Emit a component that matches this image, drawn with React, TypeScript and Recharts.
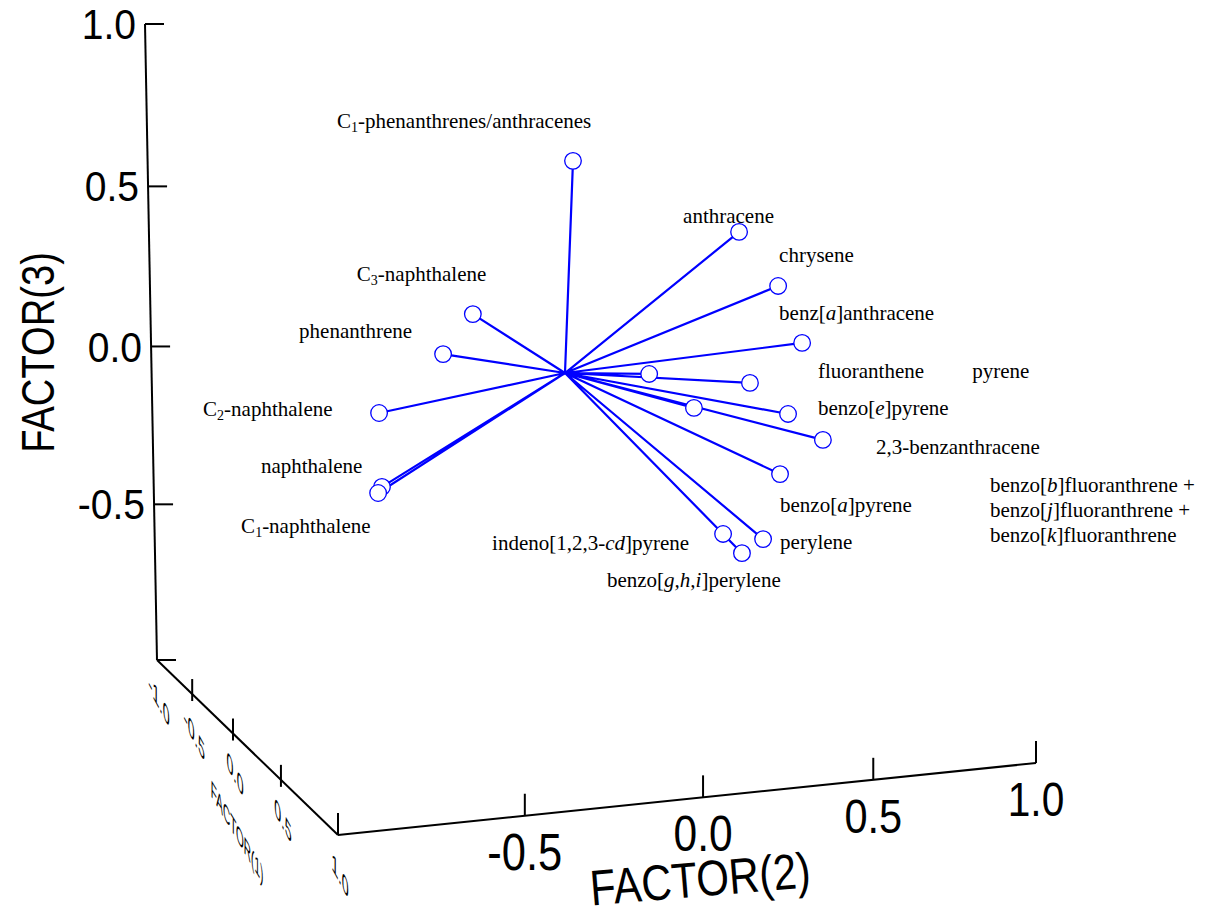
import { ReferenceLine, Scatter, ScatterChart, XAxis, YAxis } from "recharts";

const W = 1206;
const H = 919;

// view plane: 1 unit = 320px, hub of the loading spokes sits at (0, 0)
const PX_PER_UNIT = 320;
const HUB_PX = [565, 373];
const X_DOMAIN: [number, number] = [-HUB_PX[0] / PX_PER_UNIT, (W - HUB_PX[0]) / PX_PER_UNIT];
const Y_DOMAIN: [number, number] = [-(H - HUB_PX[1]) / PX_PER_UNIT, HUB_PX[1] / PX_PER_UNIT];
const px = (n: number) => n / PX_PER_UNIT;

const BLUE = "#0000ff";
const SANS = "'Liberation Sans', Arial, sans-serif";
const SERIF = "'Liberation Serif', 'Times New Roman', serif";

// compound names (_x_ = subscript, *x* = italic, \n = new line)
const compounds = [
  "C_1_-phenanthrenes/anthracenes",
  "anthracene",
  "chrysene",
  "benz[*a*]anthracene",
  "fluoranthene",
  "pyrene",
  "benzo[*e*]pyrene",
  "2,3-benzanthracene",
  "benzo[*a*]pyrene",
  "benzo[*b*]fluoranthrene +\nbenzo[*j*]fluoranthrene +\nbenzo[*k*]fluoranthrene",
  "perylene",
  "indeno[1,2,3-*cd*]pyrene",
  "benzo[*g,h,i*]perylene",
  "C_3_-naphthalene",
  "phenanthrene",
  "C_2_-naphthalene",
  "naphthalene",
  "C_1_-naphthalene",
];

// loadings projected onto the view plane
const planeX = [
  0.025, 0.544, 0.666, 0.741, 0.578, 0.263, 0.697, 0.806, 0.672, 0.403, 0.619, 0.494, 0.553,
  -0.288, -0.381, -0.581, -0.572, -0.584,
];
const planeY = [
  0.663, 0.441, 0.272, 0.094, -0.031, -0.003, -0.128, -0.209, -0.316, -0.109, -0.519, -0.503, -0.563,
  0.184, 0.059, -0.125, -0.356, -0.375,
];

// label anchor (left, baseline) relative to its marker, in px
const LABEL_OFFSET: [number, number][] = [
  [-236, -33], [-56, -9], [1, -24], [-23, -23], [68, -5], [323, 4], [30, 1], [53, 14], [0, 38],
  [296, 84], [17, 10], [-231, 16], [-135, 34], [-116, -33], [-144, -16], [-176, 3], [-121, -14],
  [-137, 40],
];

// axis ticks
const F1_TICKS = [-1, -0.5, 0, 0.5, 1];
const F2_TICKS = [-0.5, 0, 0.5, 1];
const F3_TICKS = [-0.5, 0, 0.5, 1];

// box corners on the view plane
const CORNER: Record<string, [number, number]> = {
  top: [-1.3125, 1.0906],
  back: [-1.275, -0.8969],
  front: [-0.7094, -1.4438],
  right: [1.4719, -1.2188],
};

type Axis = { from: [number, number]; to: [number, number]; depth: [number, number] };
const AX1: Axis = { from: CORNER.back, to: CORNER.front, depth: [1.16, 0.84] };
const AX2: Axis = { from: CORNER.front, to: CORNER.right, depth: [0.954, 1.046] };
const AX3: Axis = { from: CORNER.back, to: CORNER.top, depth: [1.014, 0.986] };

// perspective-correct position of value f (-1..1) along an axis
function at(ax: Axis, f: number): [number, number] {
  const wa = ((1 - f) / 2) * ax.depth[0];
  const wb = ((1 + f) / 2) * ax.depth[1];
  const s = wa + wb;
  return [(wa * ax.from[0] + wb * ax.to[0]) / s, (wa * ax.from[1] + wb * ax.to[1]) / s];
}
const depthAt = (ax: Axis, f: number) => ((1 - f) / 2) * ax.depth[0] + ((1 + f) / 2) * ax.depth[1];

type Seg = [[number, number], [number, number]];
const segments: Seg[] = [
  [CORNER.top, CORNER.back],
  [CORNER.back, CORNER.front],
  [CORNER.front, CORNER.right],
];
[-1, ...F3_TICKS].forEach((f) => {
  const [u, v] = at(AX3, f);
  segments.push([[u, v], [u + px(19), v]]);
});
F1_TICKS.slice(1).forEach((f) => {
  const [u, v] = at(AX1, f);
  if (f === 1) segments.push([[u, v], [u, v + px(22)]]);
  else segments.push([[u, v + px(15)], [u, v - px(7)]]);
});
F2_TICKS.forEach((f) => {
  const [u, v] = at(AX2, f);
  segments.push([[u, v], [u, v + px(22)]]);
});

type TextItem = {
  x: number;
  y: number;
  text: string;
  fs: number;
  anchor: "start" | "middle" | "end";
  tf: string;
};
const axisText: TextItem[] = [];
F3_TICKS.forEach((f) => {
  const [u, v] = at(AX3, f);
  axisText.push({ x: u - px(9), y: v, text: f.toFixed(1), fs: 42, anchor: "end", tf: "scale(0.93,1)" });
});
F2_TICKS.forEach((f) => {
  const [u, v] = at(AX2, f);
  axisText.push({
    x: u,
    y: v - px(36),
    text: f.toFixed(1),
    fs: 50 / depthAt(AX2, f),
    anchor: "middle",
    tf: "scale(0.85,1)",
  });
});
F1_TICKS.forEach((f) => {
  const [u, v] = at(AX1, f);
  axisText.push({
    x: u + px(2),
    y: v - px(40),
    text: f.toFixed(1),
    fs: 20,
    anchor: "middle",
    tf: "matrix(0.62,1.15,0,1.25,0,0)",
  });
});
{
  const [u1, v1] = at(AX1, 0);
  axisText.push({ x: u1 + px(4), y: v1 - px(98), text: "FACTOR(1)", fs: 20, anchor: "middle", tf: "matrix(0.5,0.85,0,1.2,0,0)" });
  const [u2, v2] = at(AX2, 0);
  axisText.push({ x: u2 - px(3), y: v2 - px(81), text: "FACTOR(2)", fs: 50, anchor: "middle", tf: "rotate(-4.8) scale(0.84,1)" });
  const [u3, v3] = at(AX3, 0);
  axisText.push({ x: u3 - px(114), y: v3 - px(6), text: "FACTOR(3)", fs: 46, anchor: "middle", tf: "rotate(-90) scale(0.83,1)" });
}

const points = compounds.map((name, i) => ({ x: planeX[i], y: planeY[i], idx: i, name }));
// hub -> point -> hub ... so one path draws every spoke
const spokes = points.flatMap((p) => [{ x: 0, y: 0 }, { x: p.x, y: p.y }]);

function RichLine({ text, x, y }: { text: string; x: number; y: number }) {
  const parts = text.split(/(_[^_]+_|\*[^*]+\*)/).filter(Boolean);
  let prevSub = false;
  return (
    <text x={x} y={y} fontFamily={SERIF} fontSize={21} fill="#000">
      {parts.map((p, k) => {
        const sub = p.startsWith("_");
        const ital = p.startsWith("*");
        const dy = (sub ? 4 : 0) - (prevSub ? 4 : 0);
        prevSub = sub;
        return (
          <tspan key={k} dy={dy} fontSize={sub ? 14 : 21} fontStyle={ital ? "italic" : "normal"}>
            {sub || ital ? p.slice(1, -1) : p}
          </tspan>
        );
      })}
    </text>
  );
}

const none = () => <g />;

const marker = (p: any) => (
  <circle cx={p.cx} cy={p.cy} r={8.3} fill="#fff" stroke={BLUE} strokeWidth={1.3} />
);

const label = (p: any) => {
  const i = p.payload.idx;
  const [dx, dy] = LABEL_OFFSET[i];
  return (
    <g>
      {compounds[i].split("\n").map((ln, k) => (
        <RichLine key={k} text={ln} x={p.cx + dx} y={p.cy + dy + k * 25} />
      ))}
    </g>
  );
};

const axisLabel = (p: any) => {
  const t: TextItem = p.payload;
  return (
    <text
      transform={`translate(${p.cx},${p.cy}) ${t.tf}`}
      textAnchor={t.anchor}
      dy="0.36em"
      fontFamily={SANS}
      fontSize={t.fs}
      fill="#000"
    >
      {t.text}
    </text>
  );
};

export default function App() {
  return (
    <div style={{ position: "absolute", left: 0, top: 0, width: W, height: H, background: "#fff" }}>
      <ScatterChart width={W} height={H} margin={{ top: 0, right: 0, bottom: 0, left: 0 }}>
        <XAxis type="number" dataKey="x" domain={X_DOMAIN} allowDataOverflow hide />
        <YAxis type="number" dataKey="y" domain={Y_DOMAIN} allowDataOverflow hide />
        {segments.map((s, i) => (
          <ReferenceLine
            key={i}
            segment={[{ x: s[0][0], y: s[0][1] }, { x: s[1][0], y: s[1][1] }]}
            stroke="#000"
            strokeWidth={2}
          />
        ))}
        <Scatter
          data={spokes}
          line={{ stroke: BLUE, strokeWidth: 2.2 }}
          lineType="joint"
          shape={none}
          isAnimationActive={false}
        />
        <Scatter data={points} shape={marker} isAnimationActive={false} />
        <Scatter data={points} shape={label} isAnimationActive={false} />
        <Scatter data={axisText} shape={axisLabel} isAnimationActive={false} />
      </ScatterChart>
    </div>
  );
}
